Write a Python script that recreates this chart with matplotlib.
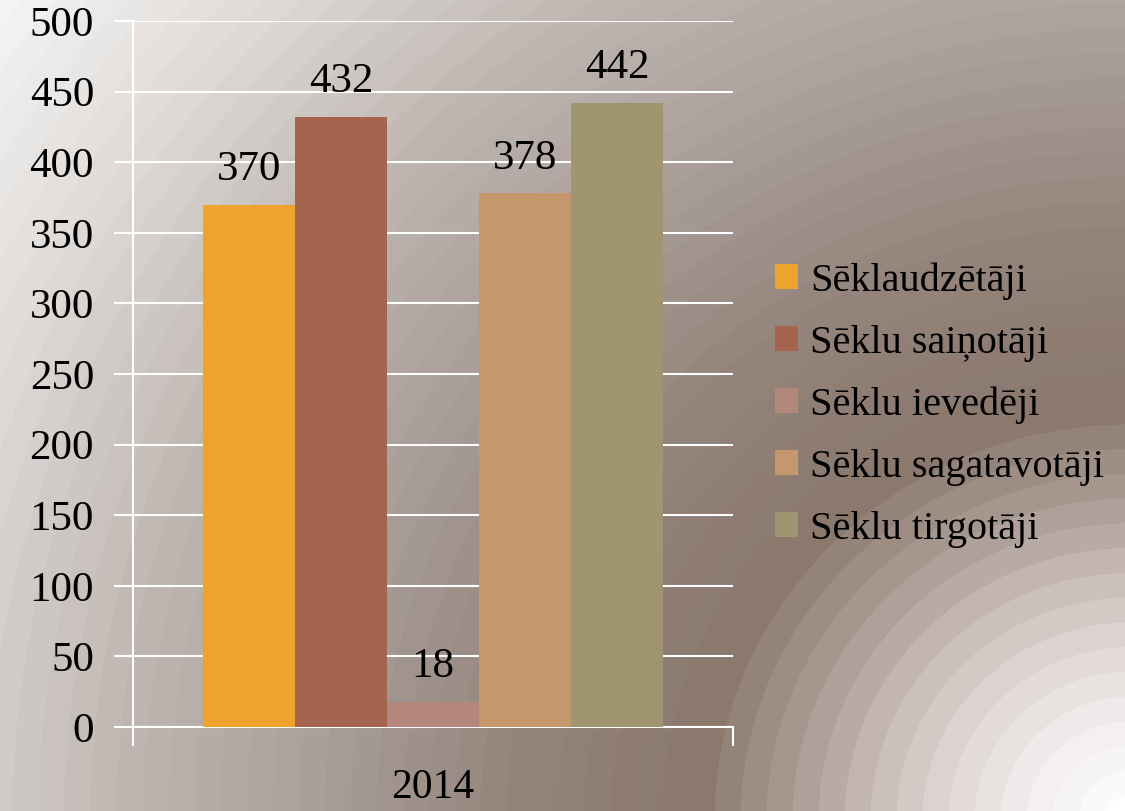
import numpy as np
import matplotlib
matplotlib.use("Agg")
from matplotlib import pyplot as plt

plt.rcParams['font.family'] = ['Liberation Serif', 'DejaVu Serif']

years = ['2014']
series = ['Sēklaudzētāji', 'Sēklu saiņotāji', 'Sēklu ievedēji',
          'Sēklu sagatavotāji', 'Sēklu tirgotāji']
values = [370, 432, 18, 378, 442]
colors = ['#EFA32F', '#A4644E', '#B3877B', '#C4976C', '#A19470']

W, H = 1125, 811
fig = plt.figure(figsize=(W / 100, H / 100), dpi=100)

# background: banded radial gradient centred at the bottom-right corner
yy, xx = np.mgrid[0:H, 0:W]
r = np.hypot(xx - 1130, (yy - 820) * 1.05)
stops_r = [0, 100, 200, 300, 420, 600, 820, 1000, 1200, 1400, 1600]
stops_c = np.array([[255, 255, 255], [240, 236, 235], [215, 206, 201],
                    [180, 166, 158], [138, 120, 109], [148, 132, 123],
                    [172, 161, 156], [192, 183, 178], [222, 218, 216],
                    [245, 244, 243], [252, 252, 252]]) / 255.0
rq = np.floor(r / 26) * 26
img = np.stack([np.interp(rq, stops_r, stops_c[:, k]) for k in range(3)], axis=-1)
bg = fig.add_axes([0, 0, 1, 1], zorder=0)
bg.imshow(img, aspect='auto', interpolation='nearest')
bg.axis('off')

ax = fig.add_axes([133 / W, 1 - 727 / H, 600 / W, 706 / H], zorder=1)
ax.patch.set_alpha(0)

n = len(series)
bw = 460 / 600 / n
x0 = np.arange(len(years))
for i, (s, v, c) in enumerate(zip(series, values, colors)):
    pos = x0 - 2 * bw + i * bw
    ax.bar(pos, [v], width=bw, color=c, label=s, zorder=3)
    ax.text(pos[0], v + 11, str(v), ha='center', va='bottom', fontsize=31,
            color='black', zorder=4)

ax.set_xlim(-0.5, 0.5)
ax.set_ylim(0, 500)
ax.set_yticks(np.arange(0, 501, 50))
ax.set_xticks([-0.5, 0.5], minor=True)
ax.set_xticks(x0)
ax.set_xticklabels(years)
ax.tick_params(axis='x', which='major', length=0, pad=30, labelsize=30)
ax.tick_params(axis='x', which='minor', length=14, width=1.5, color='white')
ax.tick_params(axis='y', length=14, width=1.5, color='white', labelsize=31, pad=14)
ax.grid(axis='y', color='white', linewidth=1.5, zorder=1)
ax.set_axisbelow(True)
for sp in ['top', 'right']:
    ax.spines[sp].set_visible(False)
for sp in ['left', 'bottom']:
    ax.spines[sp].set_color('white')
    ax.spines[sp].set_linewidth(1.5)

leg = ax.legend(loc='center left', bbox_to_anchor=(1.01, 0.456), frameon=False,
                fontsize=29, handlelength=0.57, handleheight=0.57,
                handletextpad=0.3, labelspacing=0.62, borderpad=0.4)

fig.savefig('out.png', dpi=100)
